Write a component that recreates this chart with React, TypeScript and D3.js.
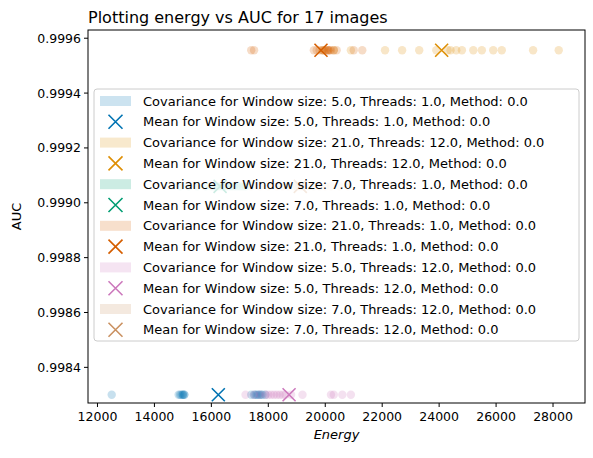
import React from "react";
import * as d3 from "d3";

const W = 593, H = 458;
const M = { l: 88, r: 8, t: 30, b: 55 };

const series = [
  { label: "Window size: 5.0, Threads: 1.0, Method: 0.0", color: "#0173b2", y: 0.99830,
    x: [12500, 14850, 14900, 14950, 15000, 15000, 15050, 15050, 17400, 17500, 17550, 17600, 17650, 17700, 17750, 17800, 17900] },
  { label: "Window size: 21.0, Threads: 12.0, Method: 0.0", color: "#de8f05", y: 0.999556,
    x: [19900, 20300, 20900, 22100, 22700, 23300, 23900, 24400, 24800, 24300, 24600, 25200, 25500, 25900, 26200, 27300, 28200] },
  { label: "Window size: 7.0, Threads: 1.0, Method: 0.0", color: "#029e73", y: 0.99906,
    x: [14900, 15200, 15500, 15800, 16000, 16100, 16200, 16300, 16400, 16500, 16600, 16700, 16800, 16900, 17000, 17100, 17200] },
  { label: "Window size: 21.0, Threads: 1.0, Method: 0.0", color: "#d55e00", y: 0.999556,
    x: [17400, 17500, 19600, 19700, 19800, 19900, 19950, 20000, 20050, 20100, 20100, 20150, 20200, 20300, 20400, 21000, 21300] },
  { label: "Window size: 5.0, Threads: 12.0, Method: 0.0", color: "#cc78bc", y: 0.99830,
    x: [17200, 17500, 17700, 17900, 18000, 18100, 18200, 18300, 18400, 18500, 18600, 18800, 19200, 20200, 20300, 20600, 20900] },
  { label: "Window size: 7.0, Threads: 12.0, Method: 0.0", color: "#ca9161", y: 0.99906,
    x: [17400, 17700, 18000, 18300, 18500, 18700, 18900, 19000, 19100, 19200, 19400, 19600, 19800, 20000, 20200, 20500, 20800] },
];

const xTicks = d3.range(12000, 28001, 2000);
const yTicks = [0.9984, 0.9986, 0.9988, 0.999, 0.9992, 0.9994, 0.9996];

export default function App() {
  const x = d3.scaleLinear().domain([11667, 29123]).range([M.l, W - M.r]);
  const y = d3.scaleLinear().domain([0.99827, 0.99963]).range([H - M.b, M.t]);
  const font = "DejaVu Sans, sans-serif";
  const legendRows = series.flatMap((s) => [{ kind: "cov", s }, { kind: "mean", s }]);
  const lx = 100, ly0 = 101, rowH = 20.8;
  return (
    <svg width={W} height={H} style={{ position: "absolute", left: 0, top: 0, fontFamily: font }}>
      <rect width={W} height={H} fill="white" />
      <text x={M.l} y={23} fontSize={16} fill="#000">Plotting energy vs AUC for 17 images</text>
      {series.map((s, si) => (
        <g key={si}>
          {s.x.map((v, i) => (
            <circle key={i} cx={x(v)} cy={y(s.y)} r={4.2} fill={s.color} fillOpacity={0.22} />
          ))}
        </g>
      ))}
      {series.map((s, si) => {
        const mx = x(d3.mean(s.x)!), my = y(s.y), d = 6.5;
        return <path key={si} d={`M${mx - d},${my - d}L${mx + d},${my + d}M${mx - d},${my + d}L${mx + d},${my - d}`} stroke={s.color} strokeWidth={1.6} />;
      })}
      <rect x={M.l} y={M.t} width={W - M.l - M.r} height={H - M.t - M.b} fill="none" stroke="#000" strokeWidth={1} />
      {xTicks.map((t) => (
        <g key={t}>
          <line x1={x(t)} x2={x(t)} y1={H - M.b} y2={H - M.b + 4} stroke="#000" />
          <text x={x(t)} y={H - M.b + 18} fontSize={12.5} textAnchor="middle">{t}</text>
        </g>
      ))}
      {yTicks.map((t) => (
        <g key={t}>
          <line x1={M.l - 4} x2={M.l} y1={y(t)} y2={y(t)} stroke="#000" />
          <text x={M.l - 7} y={y(t) + 4.5} fontSize={12.5} textAnchor="end">{t.toFixed(4)}</text>
        </g>
      ))}
      <text x={(M.l + W - M.r) / 2} y={H - 19} fontSize={13} fontStyle="italic" textAnchor="middle">Energy</text>
      <text transform={`translate(21,${(M.t + H - M.b) / 2}) rotate(-90)`} fontSize={13} textAnchor="middle">AUC</text>
      <rect x={94} y={89} width={485} height={252} rx={3} fill="white" fillOpacity={0.8} stroke="#ccc" />
      {legendRows.map((r, i) => {
        const cy = ly0 + i * rowH;
        return (
          <g key={i}>
            {r.kind === "cov" ? (
              <rect x={lx} y={cy - 5} width={31} height={10} fill={r.s.color} fillOpacity={0.2} />
            ) : (
              <path d={`M${lx + 8.5},${cy - 7}L${lx + 22.5},${cy + 7}M${lx + 8.5},${cy + 7}L${lx + 22.5},${cy - 7}`} stroke={r.s.color} strokeWidth={1.6} />
            )}
            <text x={143} y={cy + 4.5} fontSize={13}>{(r.kind === "cov" ? "Covariance for " : "Mean for ") + r.s.label}</text>
          </g>
        );
      })}
    </svg>
  );
}
